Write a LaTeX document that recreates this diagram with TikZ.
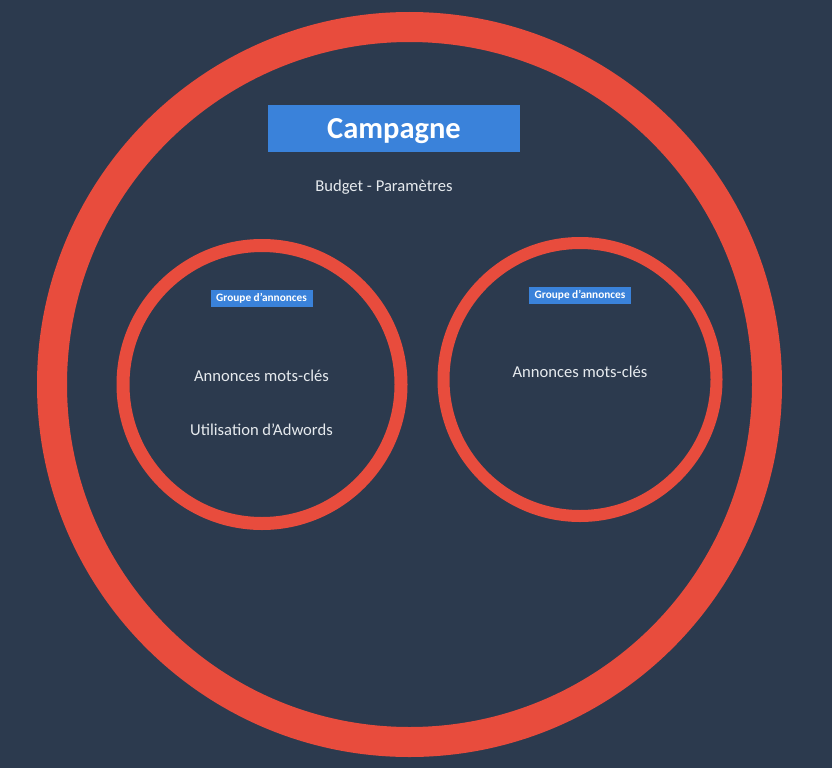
\documentclass[tikz,border=0pt]{standalone}
\usepackage{fontspec}
\setmainfont{Carlito}
\usetikzlibrary{positioning}
\definecolor{fond}{HTML}{2C3A4E}
\definecolor{rouge}{HTML}{E84C3D}
\definecolor{bleu}{HTML}{3A82DA}
\definecolor{texte}{HTML}{E6EAEE}
\tikzset{
  anneau/.style={circle,draw=rouge,inner sep=0pt,outer sep=0pt},
  titre/.style={fill=bleu,text=white,font=\bfseries\fontsize{30.5}{36}\selectfont,
    text height=20pt,text depth=0pt,minimum width=252pt,minimum height=47pt},
  etiq/.style={fill=bleu,text=white,font=\bfseries\fontsize{11.3}{13}\selectfont,inner sep=1pt,minimum width=102pt,minimum height=17pt},
  txt/.style={text=texte,font=\fontsize{16.6}{19}\selectfont}
}
\begin{document}
\begin{tikzpicture}[x=1pt,y=-1pt,on grid]
  \fill[fond] (0,0) rectangle (832,768);
  \useasboundingbox (0,0) rectangle (832,768);
  % les trois anneaux
  \node(C)[anneau,line width=30pt,minimum size=715pt] at (409.5,384.5){};
  \node(G1)[anneau,line width=13pt,minimum size=278pt] at (262,384.5){};
  \node(G2)[anneau,line width=12pt,minimum size=273pt] at (580,379.5){};
  % campagne
  \node(camp)[titre] at (394,128.5){Campagne};
  \node(budget)[txt] at (384,187){Budget - Paramètres};
  % groupes
  \node(E1)[etiq] at (261.5,298){Groupe d'annonces};
  \node(A1)[txt,below=78pt of E1]{Annonces mots-clés};
  \node(U1)[txt,below=54pt of A1]{Utilisation d'Adwords};
  \node(E2)[etiq] at (580,295.5){Groupe d'annonces};
  \node(A2)[txt,below=76.5pt of E2]{Annonces mots-clés};
\end{tikzpicture}
\end{document}
